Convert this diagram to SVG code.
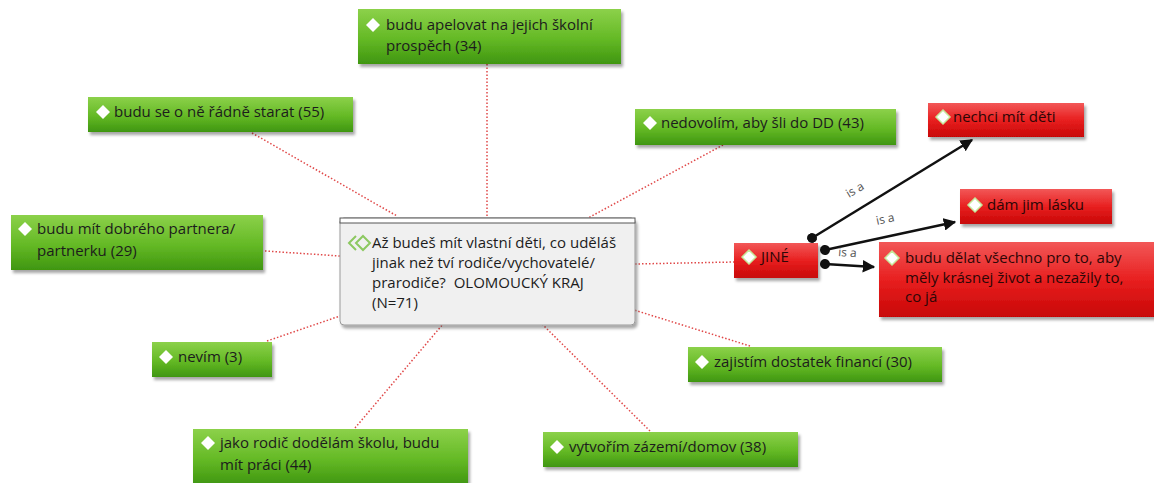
<svg xmlns="http://www.w3.org/2000/svg" width="1154" height="483" viewBox="0 0 1154 483">
<defs>
<linearGradient id="gG" x1="0" y1="0" x2="0" y2="1">
<stop offset="0" stop-color="#8cd14a"/>
<stop offset="0.55" stop-color="#64b925"/>
<stop offset="1" stop-color="#3f9610"/>
</linearGradient>
<linearGradient id="gR" x1="0" y1="0" x2="0" y2="1">
<stop offset="0" stop-color="#f25858"/>
<stop offset="0.5" stop-color="#e82020"/>
<stop offset="1" stop-color="#c80606"/>
</linearGradient>
<filter id="sh" x="-10%" y="-20%" width="125%" height="160%">
<feDropShadow dx="2" dy="3" stdDeviation="1.5" flood-color="#000" flood-opacity="0.35"/>
</filter>
<marker id="ah" viewBox="0 0 10 10" refX="9" refY="5" markerWidth="5" markerHeight="5" orient="auto" markerUnits="strokeWidth">
<path d="M0,0 L10,5 L0,10 z" fill="#111"/>
</marker>
<marker id="dot" viewBox="0 0 10 10" refX="5" refY="5" markerWidth="4" markerHeight="4" orient="auto" markerUnits="strokeWidth">
<circle cx="5" cy="5" r="5" fill="#111"/>
</marker>
</defs>
<style>
.g{fill:url(#gG);filter:url(#sh)}
.r{fill:url(#gR);filter:url(#sh)}
.t{font-family:"Open Sans","Noto Sans",sans-serif;font-size:15px;fill:#1c1c1c;white-space:pre}
.tr{fill:#2e0606}
.d{fill:#fff}
.dr{fill:#fff;stroke:#c6e89a;stroke-width:1.5}
.dl{fill:none;stroke:#e04848;stroke-width:1.5;stroke-dasharray:1.5 2}
.ar{fill:none;stroke:#111;stroke-width:2.5;marker-start:url(#dot);marker-end:url(#ah)}
.isa{font-family:"Open Sans","Noto Sans",sans-serif;font-size:12px;fill:#555}
</style>
<g id="connectors">
<line class="dl" x1="487" y1="64" x2="487" y2="218"/>
<line class="dl" x1="252" y1="133" x2="397" y2="216"/>
<line class="dl" x1="723" y1="145" x2="588" y2="218"/>
<line class="dl" x1="265" y1="251" x2="340" y2="256"/>
<line class="dl" x1="267" y1="341" x2="340" y2="316"/>
<line class="dl" x1="355" y1="428" x2="443" y2="324"/>
<line class="dl" x1="650" y1="431" x2="542" y2="324"/>
<line class="dl" x1="750" y1="346" x2="634" y2="310"/>
<line class="dl" x1="635" y1="264" x2="734" y2="262"/>
<line class="ar" x1="812" y1="238" x2="972" y2="140"/>
<line class="ar" x1="825" y1="250" x2="955" y2="222"/>
<line class="ar" x1="825" y1="264" x2="874" y2="267"/>
<text class="isa" transform="translate(849,198) rotate(-31)">is a</text>
<text class="isa" transform="translate(877,225) rotate(-12)">is a</text>
<text class="isa" transform="translate(838,256) rotate(4)">is a</text>
</g>
<g id="center">
<rect x="340" y="218" width="295" height="107" rx="4" fill="#f0f0f0" stroke="#9a9a9a" stroke-width="1" filter="url(#sh)"/>
<rect x="340" y="218" width="295" height="5" fill="#fff" stroke="#555" stroke-width="1"/>
<polyline points="356,236 349,243 356,250" fill="none" stroke="#8cc860" stroke-width="2"/>
<polygon points="363,236 370,243 363,250 356,243" fill="none" stroke="#8cc860" stroke-width="2"/>
<text class="t" x="372" y="248">Až budeš mít vlastní děti, co uděláš</text>
<text class="t" x="372" y="268">jinak než tví rodiče/vychovatelé/</text>
<text class="t" x="372" y="288">prarodiče?  OLOMOUCKÝ KRAJ</text>
<text class="t" x="372" y="308">(N=71)</text>
</g>
<g id="n-apelovat">
<rect class="g" x="358" y="9" width="263" height="55"/>
<polygon class="d" points="373,18 380,25 373,32 366,25"/>
<text class="t" x="386" y="30">budu apelovat na jejich školní</text>
<text class="t" x="386" y="51">prospěch (34)</text>
</g>
<g id="n-starat">
<rect class="g" x="88" y="97" width="265" height="35"/>
<polygon class="d" points="103,105 110,112 103,119 96,112"/>
<text class="t" x="114" y="117">budu se o ně řádně starat (55)</text>
</g>
<g id="n-nedovolim">
<rect class="g" x="635" y="109" width="261" height="36"/>
<polygon class="d" points="650,116 657,123 650,130 643,123"/>
<text class="t" x="661" y="128">nedovolím, aby šli do DD (43)</text>
</g>
<g id="n-partnera">
<rect class="g" x="11" y="215" width="252" height="55"/>
<polygon class="d" points="25,222 32,229 25,236 18,229"/>
<text class="t" x="37" y="234">budu mít dobrého partnera/</text>
<text class="t" x="37" y="256">partnerku (29)</text>
</g>
<g id="n-nevim">
<rect class="g" x="152" y="342" width="120" height="35"/>
<polygon class="d" points="166,350 173,357 166,364 159,357"/>
<text class="t" x="178" y="362">nevím (3)</text>
</g>
<g id="n-jako">
<rect class="g" x="193" y="429" width="275" height="56"/>
<polygon class="d" points="208,436 215,443 208,450 201,443"/>
<text class="t" x="220" y="448">jako rodič dodělám školu, budu</text>
<text class="t" x="220" y="470">mít práci (44)</text>
</g>
<g id="n-vytvorim">
<rect class="g" x="543" y="432" width="255" height="35"/>
<polygon class="d" points="557,440 564,447 557,454 550,447"/>
<text class="t" x="569" y="452">vytvořím zázemí/domov (38)</text>
</g>
<g id="n-zajistim">
<rect class="g" x="688" y="347" width="254" height="35"/>
<polygon class="d" points="702,355 709,362 702,369 695,362"/>
<text class="t" x="714" y="367">zajistím dostatek financí (30)</text>
</g>
<g id="n-jine">
<rect class="r" x="734" y="243" width="84" height="35"/>
<polygon class="dr" points="749,250 756,257 749,264 742,257"/>
<text class="t tr" x="761" y="262">JINÉ</text>
</g>
<g id="n-nechci">
<rect class="r" x="928" y="103" width="156" height="34"/>
<polygon class="dr" points="943,110 950,117 943,124 936,117"/>
<text class="t tr" x="953" y="122">nechci mít děti</text>
</g>
<g id="n-dam">
<rect class="r" x="960" y="189" width="152" height="35"/>
<polygon class="dr" points="975,198 982,205 975,212 968,205"/>
<text class="t tr" x="987" y="210">dám jim lásku</text>
</g>
<g id="n-budu">
<rect class="r" x="879" y="242" width="276" height="75"/>
<polygon class="dr" points="892,251 899,258 892,265 885,258"/>
<text class="t tr" x="905" y="263">budu dělat všechno pro to, aby</text>
<text class="t tr" x="905" y="283">měly krásnej život a nezažily to,</text>
<text class="t tr" x="905" y="302">co já</text>
</g>
</svg>
